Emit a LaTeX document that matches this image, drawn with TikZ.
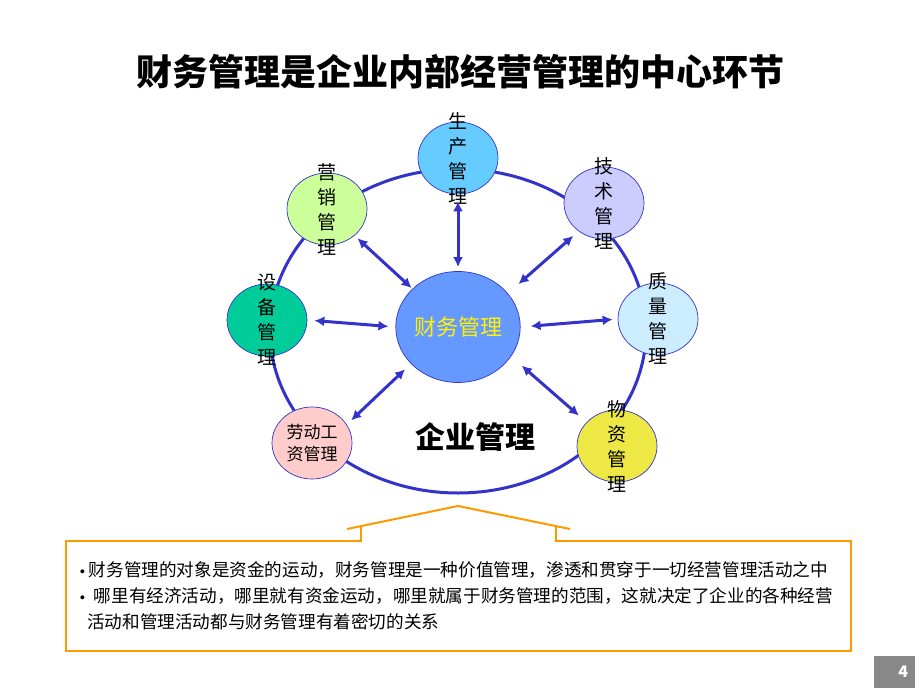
\documentclass[tikz,border=0pt]{standalone}
\usepackage{fontspec}
\newfontfamily\cjk{Noto Sans CJK SC}
\usetikzlibrary{shapes.geometric,arrows.meta}

\definecolor{ringblue}{HTML}{3333CC}
\definecolor{prodcol}{HTML}{66CCFF}
\definecolor{salescol}{HTML}{CCFF99}
\definecolor{techcol}{HTML}{CCCCFF}
\definecolor{equipcol}{HTML}{00CC99}
\definecolor{qualcol}{HTML}{CCECFF}
\definecolor{laborcol}{HTML}{FFCCCC}
\definecolor{matcol}{HTML}{EEE844}
\definecolor{fincol}{HTML}{6699FF}
\definecolor{boxorange}{HTML}{FF9900}
\definecolor{pagegray}{HTML}{888888}

\begin{document}
\begin{tikzpicture}[x=1pt,y=-1pt,
    sub/.style={ellipse, draw=ringblue, line width=0.7pt, minimum width=80pt, minimum height=72pt, inner sep=0pt},
    vtext/.style={font=\cjk\fontsize{19}{25}\selectfont, align=center},
    link/.style={draw=ringblue, line width=3pt, {Latex[length=10pt,width=10pt]}-{Latex[length=10pt,width=10pt]}},
    bodytext/.style={anchor=base west, inner sep=0pt, font=\cjk\fontsize{17.6}{20}\selectfont}]
    \useasboundingbox (0,0) rectangle (920,690);

    % Title
    \node (title) at (460,72) {\cjk\bfseries\fontsize{36}{40}\selectfont 财务管理是企业内部经营管理的中心环节};

    % Ring of the enterprise
    \draw[ringblue, line width=3pt] (458,331) ellipse [x radius=188, y radius=162];

    % Departments
    \node[sub, fill=prodcol] (prod) at (458,158) [label={[vtext]center:生\\产\\管\\理}] {};
    \node[sub, fill=salescol] (sales) at (327,209) [label={[vtext]center:营\\销\\管\\理}] {};
    \node[sub, fill=techcol] (tech) at (604,203) [label={[vtext]center:技\\术\\管\\理}] {};
    \node[sub, fill=equipcol] (equip) at (267,320) [label={[vtext]center:设\\备\\管\\理}] {};
    \node[sub, fill=qualcol] (quality) at (658,319) [label={[vtext]center:质\\量\\管\\理}] {};
    \node[sub, fill=laborcol] (labor) at (312,443) [label={[vtext, font=\cjk\fontsize{17}{22}\selectfont]center:劳动工\\资管理}] {};
    \node[sub, fill=matcol] (material) at (617,446) [label={[vtext]center:物\\资\\管\\理}] {};

    % Financial management in the middle
    \node[ellipse, draw=ringblue, line width=0.7pt, fill=fincol, minimum width=120pt, minimum height=111pt, inner sep=0pt,
        text=yellow, font=\cjk\fontsize{22}{24}\selectfont] (fin) at (458,327) {财务管理};
    \node[font=\cjk\bfseries\fontsize{30}{32}\selectfont] (ent) at (475,437) {企业管理};

    % Links
    \draw[link, shorten <=7pt, shorten >=4pt] (prod.-90) -- (fin.90);
    \draw[link, shorten <=4pt, shorten >=1pt] (sales.-44) -- (fin.140);
    \draw[link, shorten <=7pt, shorten >=14pt] (tech.-132) -- (fin.34);
    \draw[link, shorten <=7pt, shorten >=7pt] (equip.0) -- (fin.180);
    \draw[link, shorten <=5pt, shorten >=10pt] (quality.180) -- (fin.0);
    \draw[link, shorten <=6pt, shorten >=8pt] (labor.28) -- (fin.-142);
    \draw[link, shorten <=10pt, shorten >=14pt] (material.142) -- (fin.-29);

    % Callout box
    \draw[boxorange, line width=2pt] (347,529) -- (458,506) -- (570,529);
    \draw[boxorange, line width=2pt] (361,527) -- (361,541) -- (66,541) -- (66,651)
        -- (851,651) -- (851,541) -- (556,541) -- (556,527);
    \node[bodytext] (line1) at (76,576) {{\normalfont\textbullet}财务管理的对象是资金的运动，财务管理是一种价值管理，渗透和贯穿于一切经营管理活动之中};
    \node[bodytext] (line2) at (76,602) {{\normalfont\textbullet}\hspace{5pt}哪里有经济活动，哪里就有资金运动，哪里就属于财务管理的范围，这就决定了企业的各种经营};
    \node[bodytext] (line3) at (87,628) {活动和管理活动都与财务管理有着密切的关系};

    % Page number
    \node[fill=pagegray, minimum width=41pt, minimum height=32pt, text width=28pt, align=right, inner sep=0pt,
        text=white, font=\cjk\bfseries\fontsize{16}{18}\selectfont] (page) at (894,672) {4};
\end{tikzpicture}
\end{document}
